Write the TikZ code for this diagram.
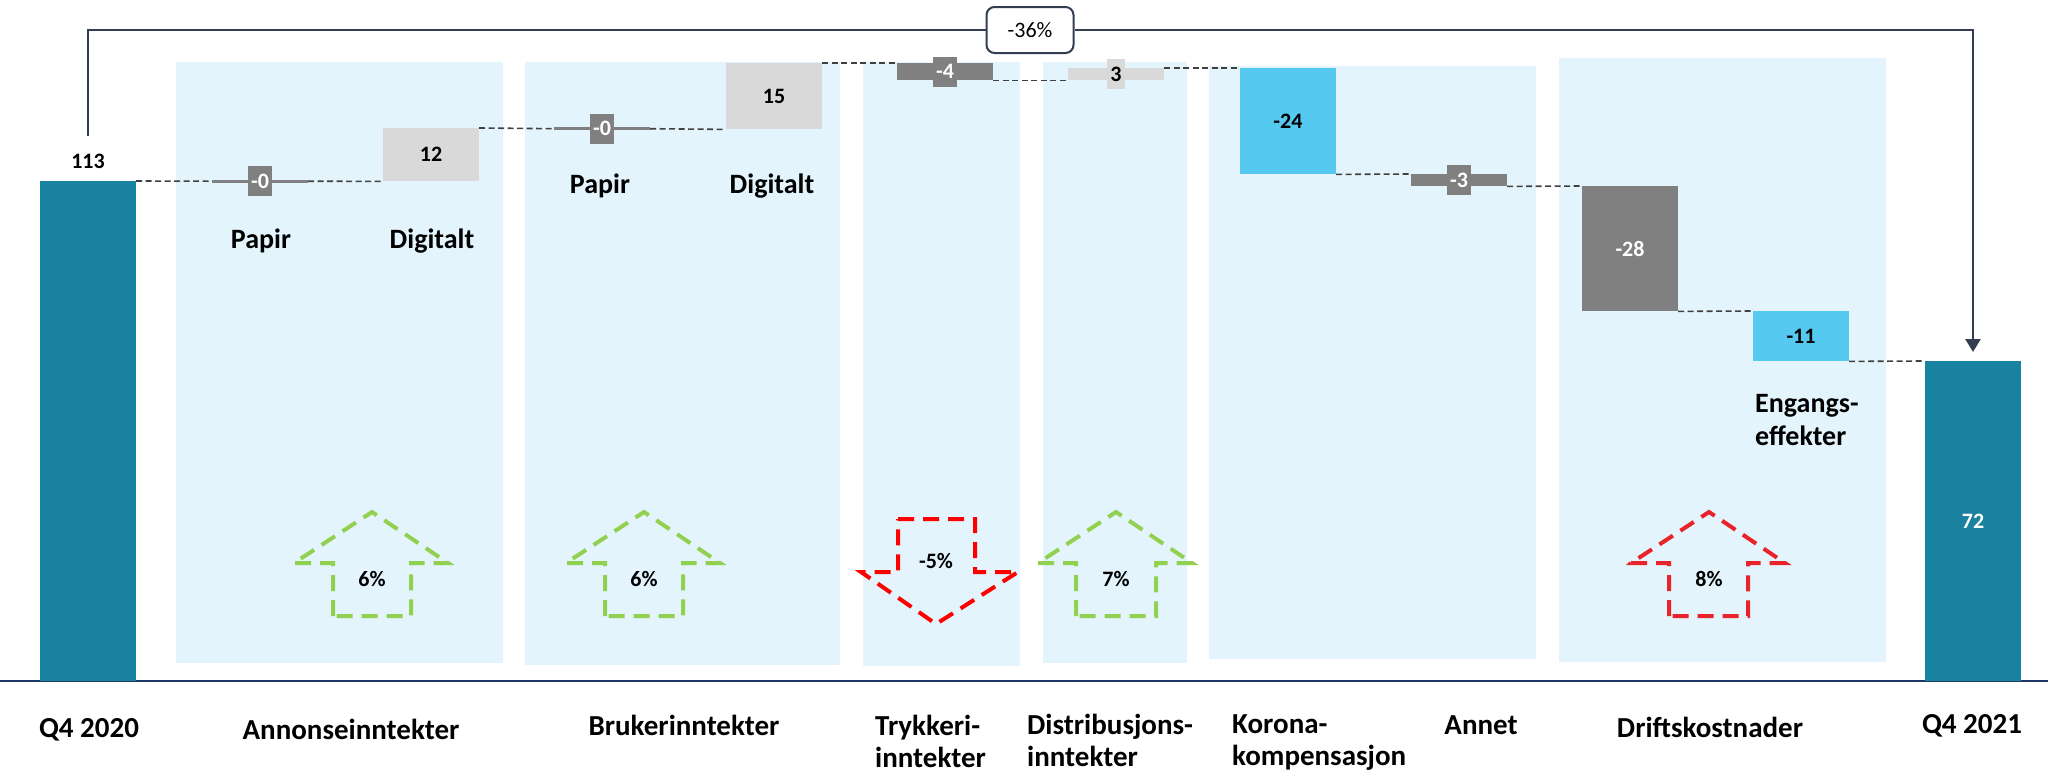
\documentclass[tikz,border=0pt]{standalone}
\usepackage{fontspec}
\setmainfont{Carlito}
\usetikzlibrary{arrows.meta}
\definecolor{tealbar}{HTML}{1882A0}
\definecolor{dgrey}{HTML}{808080}
\definecolor{lgrey}{HTML}{D9D9D9}
\definecolor{lblue}{HTML}{55C9F0}
\definecolor{panelblue}{HTML}{E3F4FC}
\definecolor{upgreen}{HTML}{92D050}
\definecolor{downred}{HTML}{FF0000}
\definecolor{upred}{HTML}{E8232A}
\definecolor{bracketc}{HTML}{333F50}
\definecolor{axisc}{HTML}{1F3864}
\definecolor{connc}{HTML}{404040}
\newcommand\myval{\fontsize{22}{26}\selectfont\bfseries}
\newcommand\mycat{\fontsize{28}{33}\selectfont\bfseries}
\newcommand\myax{\fontsize{29}{32.5}\selectfont\bfseries}
\begin{document}
\begin{tikzpicture}[x=1pt,y=-1pt,
  panel/.style={fill=panelblue},
  barbox/.style={inner sep=0pt, minimum width=96pt, anchor=north, font=\myval},
  tagbox/.style={inner xsep=3.5pt, inner ysep=0pt, minimum height=30pt, font=\myval},
  conn/.style={draw=connc, line width=1.6pt, dash pattern=on 6pt off 3.5pt},
  pctarrow/.style={line width=4pt, dash pattern=on 16pt off 9pt, line join=miter},
  pctlabel/.style={font=\myval, inner sep=0pt},
  catlab/.style={font=\mycat, inner sep=0pt},
  axlab/.style={font=\myax, inner sep=0pt},
  bracket/.style={draw=bracketc, line width=2.6pt},
]
\useasboundingbox (0,0) rectangle (2048,779);
% panels
\fill[panel] (176,62) rectangle (503,663);
\fill[panel] (525,62) rectangle (840,665);
\fill[panel] (863,62) rectangle (1020,666);
\fill[panel] (1043,62) rectangle (1187,663);
\fill[panel] (1209,66) rectangle (1536,659);
\fill[panel] (1559,58) rectangle (1886,662);
% axis
\draw[axisc, line width=2pt] (0,681) -- (2048,681);
% bars
\node[barbox, fill=tealbar, minimum height=500pt] (b0) at (88,181) {};
\node[barbox, fill=dgrey, minimum height=3pt] (b1) at (260,179.5) {};
\node[barbox, fill=lgrey, minimum height=53pt] (b2) at (431,128) {12};
\node[barbox, fill=dgrey, minimum height=3pt] (b3) at (602,127) {};
\node[barbox, fill=lgrey, minimum height=66pt] (b4) at (774,63) {15};
\node[barbox, fill=dgrey, minimum height=17pt] (b5) at (945,63) {};
\node[barbox, fill=lgrey, minimum height=12pt] (b6) at (1116,68) {};
\node[barbox, fill=lblue, minimum height=106pt] (b7) at (1288,68) {-24};
\node[barbox, fill=dgrey, minimum height=12pt] (b8) at (1459,174) {};
\node[barbox, fill=dgrey, minimum height=125pt, text=white] (b9) at (1630,186) {-28};
\node[barbox, fill=lblue, minimum height=50pt] (b10) at (1801,311) {-11};
\node[barbox, fill=tealbar, minimum height=320pt, text=white] (b11) at (1973,361) {72};
% tags on thin bars
\node[tagbox, fill=dgrey, text=white] (l1) at (b1.center) {-0};
\node[tagbox, fill=dgrey, text=white] (l3) at (b3.center) {-0};
\node[tagbox, fill=dgrey, text=white] (l5) at (b5.center) {-4};
\node[tagbox, fill=lgrey] (l6) at (b6.center) {3};
\node[tagbox, fill=dgrey, text=white] (l8) at (b8.center) {-3};
\node[pctlabel] (v0) at (88,161) {113};
% connectors
\draw[conn] (b0.north east) -- (b1.west);
\draw[conn] (b1.east) -- (b2.south west);
\draw[conn] (b2.north east) -- (b3.west);
\draw[conn] (b3.east) -- (b4.south west);
\draw[conn] (b4.north east) -- (b5.north west);
\draw[conn] (b5.south east) -- (b6.south west);
\draw[conn] (b6.north east) -- (b7.north west);
\draw[conn] (b7.south east) -- (b8.north west);
\draw[conn] (b8.south east) -- (b9.north west);
\draw[conn] (b9.south east) -- (b10.north west);
\draw[conn] (b10.south east) -- (b11.north west);
% category labels in chart
\node[catlab, anchor=base] (c1) at (261,248) {Papir};
\node[catlab, anchor=base] (c2) at (432,248) {Digitalt};
\node[catlab, anchor=base] (c3) at (600,193) {Papir};
\node[catlab, anchor=base] (c4) at (772,193) {Digitalt};
\node[catlab, anchor=base west] (c5) at (1755,412) {\begin{tabular}[t]{@{}l@{}}Engangs-\\effekter\end{tabular}};
% percentage arrows
\draw[pctarrow, draw=upgreen] (333,616) -- (333,563) -- (294,563) -- (372,512) -- (448,563) -- (411,563) -- (411,616) -- cycle;
\draw[pctarrow, draw=upgreen] (605,616) -- (605,563) -- (566,563) -- (644,512) -- (720,563) -- (683,563) -- (683,616) -- cycle;
\draw[pctarrow, draw=downred] (898,519) -- (975,519) -- (975,572) -- (1018,572) -- (936,624) -- (861,572) -- (898,572) -- cycle;
\draw[pctarrow, draw=upgreen] (1076,616) -- (1076,563) -- (1038,563) -- (1116,512) -- (1192,563) -- (1156,563) -- (1156,616) -- cycle;
\draw[pctarrow, draw=upred] (1669,616) -- (1669,563) -- (1631,563) -- (1709,512) -- (1785,563) -- (1748,563) -- (1748,616) -- cycle;
\node[pctlabel] (p1) at (372,579) {6\%};
\node[pctlabel] (p2) at (644,579) {6\%};
\node[pctlabel] (p3) at (936,561) {-5\%};
\node[pctlabel] (p4) at (1116,579) {7\%};
\node[pctlabel] (p5) at (1709,579) {8\%};
% axis labels
\node[axlab, anchor=base] (t0) at (89,737) {Q4 2020};
\node[axlab, anchor=base] (t1) at (351,739) {Annonseinntekter};
\node[axlab, anchor=base] (t2) at (684,735) {Brukerinntekter};
\node[axlab, anchor=base west] (t3) at (875,735) {\begin{tabular}[t]{@{}l@{}}Trykkeri-\\inntekter\end{tabular}};
\node[axlab, anchor=base west] (t4) at (1027,734) {\begin{tabular}[t]{@{}l@{}}Distribusjons-\\inntekter\end{tabular}};
\node[axlab, anchor=base west] (t5) at (1232,733) {\begin{tabular}[t]{@{}l@{}}Korona-\\kompensasjon\end{tabular}};
\node[axlab, anchor=base] (t6) at (1481,734) {Annet};
\node[axlab, anchor=base] (t7) at (1710,737) {Driftskostnader};
\node[axlab, anchor=base] (t8) at (1972,733) {Q4 2021};
% overall change bracket
\node[draw=bracketc, line width=2pt, rounded corners=8pt, fill=white, minimum width=87pt, minimum height=46pt, inner sep=0pt, font=\fontsize{22}{26}\selectfont] (chg) at (1030,30) {-36\%};
\coordinate (brL) at (88,136);
\coordinate (brR) at (1973,352);
\draw[bracket] (brL) |- (chg.west);
\draw[bracket, -{Triangle[width=15pt,length=13pt]}] (chg.east) -| (brR);
\end{tikzpicture}
\end{document}
